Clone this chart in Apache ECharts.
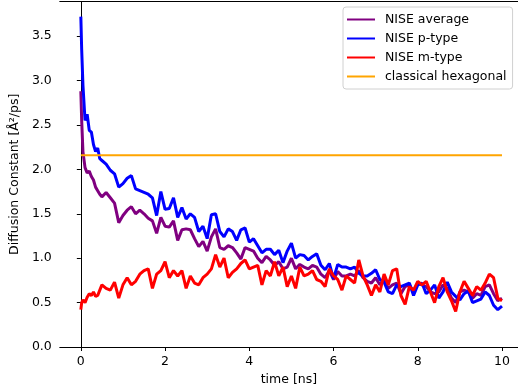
<!DOCTYPE html>
<html>
<head>
<meta charset="utf-8">
<script src="https://cdn.jsdelivr.net/npm/echarts@6/dist/echarts.min.js"></script>
<style>html,body{margin:0;padding:0;background:#fff}#c{width:518px;height:392px}</style>
</head>
<body>
<div id="c"></div>
<script>
var times = [0, 0.02, 0.05, 0.1, 0.15, 0.2, 0.25, 0.3, 0.35, 0.4, 0.45,
  0.5, 0.6, 0.7, 0.8, 0.9, 1.0, 1.1, 1.2, 1.3, 1.4,
  1.5, 1.6, 1.7, 1.8, 1.9, 2.0, 2.1, 2.2, 2.3, 2.4,
  2.5, 2.6, 2.7, 2.8, 2.9, 3.0, 3.1, 3.2, 3.3, 3.4,
  3.5, 3.6, 3.7, 3.8, 3.9, 4.0, 4.1, 4.2, 4.3, 4.4,
  4.5, 4.6, 4.7, 4.8, 4.9, 5.0, 5.1, 5.2, 5.3, 5.4,
  5.5, 5.6, 5.7, 5.8, 5.9, 6.0, 6.1, 6.2, 6.3, 6.4,
  6.5, 6.6, 6.7, 6.8, 6.9, 7.0, 7.1, 7.2, 7.3, 7.4,
  7.5, 7.6, 7.7, 7.8, 7.9, 8.0, 8.1, 8.2, 8.3, 8.4,
  8.5, 8.6, 8.7, 8.8, 8.9, 9.0, 9.1, 9.2, 9.3, 9.4,
  9.5, 9.6, 9.7, 9.8, 9.9, 10.0];

var niseAverage = [2.88, 2.55, 2.20, 2.02, 1.96, 1.98, 1.92, 1.88, 1.80, 1.76, 1.72,
  1.69, 1.74, 1.68, 1.62, 1.40, 1.48, 1.54, 1.58, 1.50, 1.54,
  1.50, 1.45, 1.42, 1.28, 1.46, 1.36, 1.35, 1.42, 1.20, 1.32,
  1.33, 1.32, 1.22, 1.13, 1.19, 1.08, 1.24, 1.33, 1.12, 1.10,
  1.14, 1.12, 1.06, 0.99, 1.12, 1.10, 1.08, 1.00, 0.95, 1.02,
  0.98, 0.92, 0.96, 0.88, 0.90, 1.00, 0.88, 0.93, 0.90, 0.88,
  0.92, 0.90, 0.82, 0.78, 0.86, 0.76, 0.85, 0.80, 0.80, 0.82,
  0.80, 0.86, 0.78, 0.74, 0.72, 0.78, 0.70, 0.76, 0.66, 0.70,
  0.72, 0.60, 0.68, 0.70, 0.62, 0.72, 0.70, 0.68, 0.62, 0.60,
  0.62, 0.70, 0.66, 0.55, 0.50, 0.62, 0.64, 0.62, 0.55, 0.60,
  0.58, 0.68, 0.70, 0.60, 0.52, 0.55];

var niseP = [3.72, 3.35, 2.95, 2.55, 2.62, 2.44, 2.42, 2.28, 2.20, 2.24, 2.12,
  2.10, 2.06, 1.99, 1.95, 1.80, 1.84, 1.90, 1.93, 1.78, 1.76,
  1.74, 1.72, 1.68, 1.48, 1.75, 1.55, 1.56, 1.68, 1.46, 1.57,
  1.44, 1.50, 1.46, 1.30, 1.36, 1.22, 1.49, 1.50, 1.30, 1.24,
  1.33, 1.30, 1.20, 1.32, 1.34, 1.18, 1.22, 1.14, 1.06, 1.10,
  1.10, 1.04, 1.09, 0.95, 1.08, 1.17, 1.00, 1.04, 1.03, 0.98,
  1.02, 1.05, 0.92, 0.87, 0.94, 0.77, 0.93, 0.90, 0.90, 0.88,
  0.90, 0.83, 0.80, 0.80, 0.83, 0.87, 0.76, 0.73, 0.62, 0.60,
  0.70, 0.68, 0.70, 0.72, 0.58, 0.70, 0.72, 0.60, 0.64, 0.70,
  0.55, 0.62, 0.73, 0.62, 0.57, 0.53, 0.60, 0.63, 0.50, 0.52,
  0.54, 0.62, 0.58, 0.47, 0.42, 0.46];

var niseM = [0.42, 0.50, 0.53, 0.50, 0.56, 0.60, 0.58, 0.62, 0.57, 0.58, 0.64,
  0.70, 0.66, 0.64, 0.73, 0.55, 0.70, 0.78, 0.70, 0.74, 0.82,
  0.86, 0.88, 0.66, 0.82, 0.86, 0.96, 0.78, 0.86, 0.80, 0.86,
  0.66, 0.80, 0.72, 0.70, 0.78, 0.82, 0.88, 1.04, 0.90, 1.00,
  0.78, 0.84, 0.88, 0.94, 0.98, 0.88, 0.90, 0.92, 0.70, 0.86,
  0.80, 0.96, 0.80, 0.90, 0.68, 0.80, 0.66, 0.90, 0.80, 0.82,
  0.86, 0.76, 0.74, 0.68, 0.88, 0.80, 0.76, 0.64, 0.80, 0.76,
  0.72, 0.98, 0.80, 0.70, 0.58, 0.70, 0.62, 0.82, 0.70, 0.86,
  0.88, 0.58, 0.48, 0.68, 0.64, 0.74, 0.70, 0.74, 0.62, 0.50,
  0.68, 0.78, 0.62, 0.52, 0.40, 0.62, 0.74, 0.66, 0.58, 0.68,
  0.64, 0.72, 0.82, 0.78, 0.55, 0.52];

var classicalTimes = [0, 10];
var classicalValues = [2.16, 2.16];

var xTicks = [0, 2, 4, 6, 8, 10];
var yTicks = [0, 0.5, 1.0, 1.5, 2.0, 2.5, 3.0, 3.5];

function pairs(xs, ys) { return xs.map(function (x, i) { return [x, ys[i]]; }); }

var chart = echarts.init(document.getElementById('c'), null, { renderer: 'canvas' });
var font = 'DejaVu Sans';
var fs = 12.5;
var lineSeries = function (name, color, xs, ys, w) {
  return { name: name, type: 'line', data: pairs(xs, ys), showSymbol: false, symbol: 'none',
    lineStyle: { color: color, width: w }, itemStyle: { color: color }, animation: false };
};
chart.setOption({
  animation: false,
  textStyle: { fontFamily: font },
  grid: { left: 59, right: 0, top: 1.5, bottom: 45 },
  legend: {
    orient: 'vertical', left: 343, top: 7, icon: 'rect', itemWidth: 28, itemHeight: 2, itemGap: 0,
    padding: [3, 6, 3, 4], backgroundColor: '#fff', borderColor: '#d0d0d0', borderWidth: 1, borderRadius: 3,
    textStyle: { fontFamily: font, fontSize: fs, color: '#000', lineHeight: 19, padding: [0, 0, 0, 5] },
    data: ['NISE average', 'NISE p-type', 'NISE m-type', 'classical hexagonal']
  },
  xAxis: [{
    type: 'value', min: -0.5, max: 10.38, name: 'time [ns]', nameLocation: 'middle', nameGap: 26,
    nameTextStyle: { fontFamily: font, fontSize: fs, color: '#000' },
    splitLine: { show: false },
    axisLine: { show: true, lineStyle: { color: '#000', width: 1 } },
    axisTick: { show: true, length: 4, lineStyle: { color: '#000' }, customValues: xTicks },
    axisLabel: { fontFamily: font, fontSize: fs, color: '#000', margin: 8, customValues: xTicks,
      formatter: function (v) { return String(v); } }
  }, {
    type: 'value', position: 'top', min: -0.5, max: 10.38,
    splitLine: { show: false }, axisTick: { show: false }, axisLabel: { show: false },
    axisLine: { show: true, onZero: false, lineStyle: { color: '#000', width: 1 } }
  }],
  yAxis: {
    type: 'value', min: 0, max: 3.89, name: 'Diffusion Constant [Å²/ps]', nameLocation: 'middle', nameGap: 37,
    nameTextStyle: { fontFamily: font, fontSize: fs, color: '#000' },
    splitLine: { show: false },
    axisLine: { show: true, lineStyle: { color: '#000', width: 1 } },
    axisTick: { show: true, length: 4, lineStyle: { color: '#000' }, customValues: yTicks },
    axisLabel: { fontFamily: font, fontSize: fs, color: '#000', margin: 8, customValues: yTicks,
      formatter: function (v) { return v.toFixed(1); } }
  },
  series: [
    lineSeries('NISE average', '#800080', times, niseAverage, 3),
    lineSeries('NISE p-type', '#0000ff', times, niseP, 3),
    lineSeries('NISE m-type', '#ff0000', times, niseM, 3),
    lineSeries('classical hexagonal', '#ffa500', classicalTimes, classicalValues, 2)
  ]
});
</script>
</body>
</html>
